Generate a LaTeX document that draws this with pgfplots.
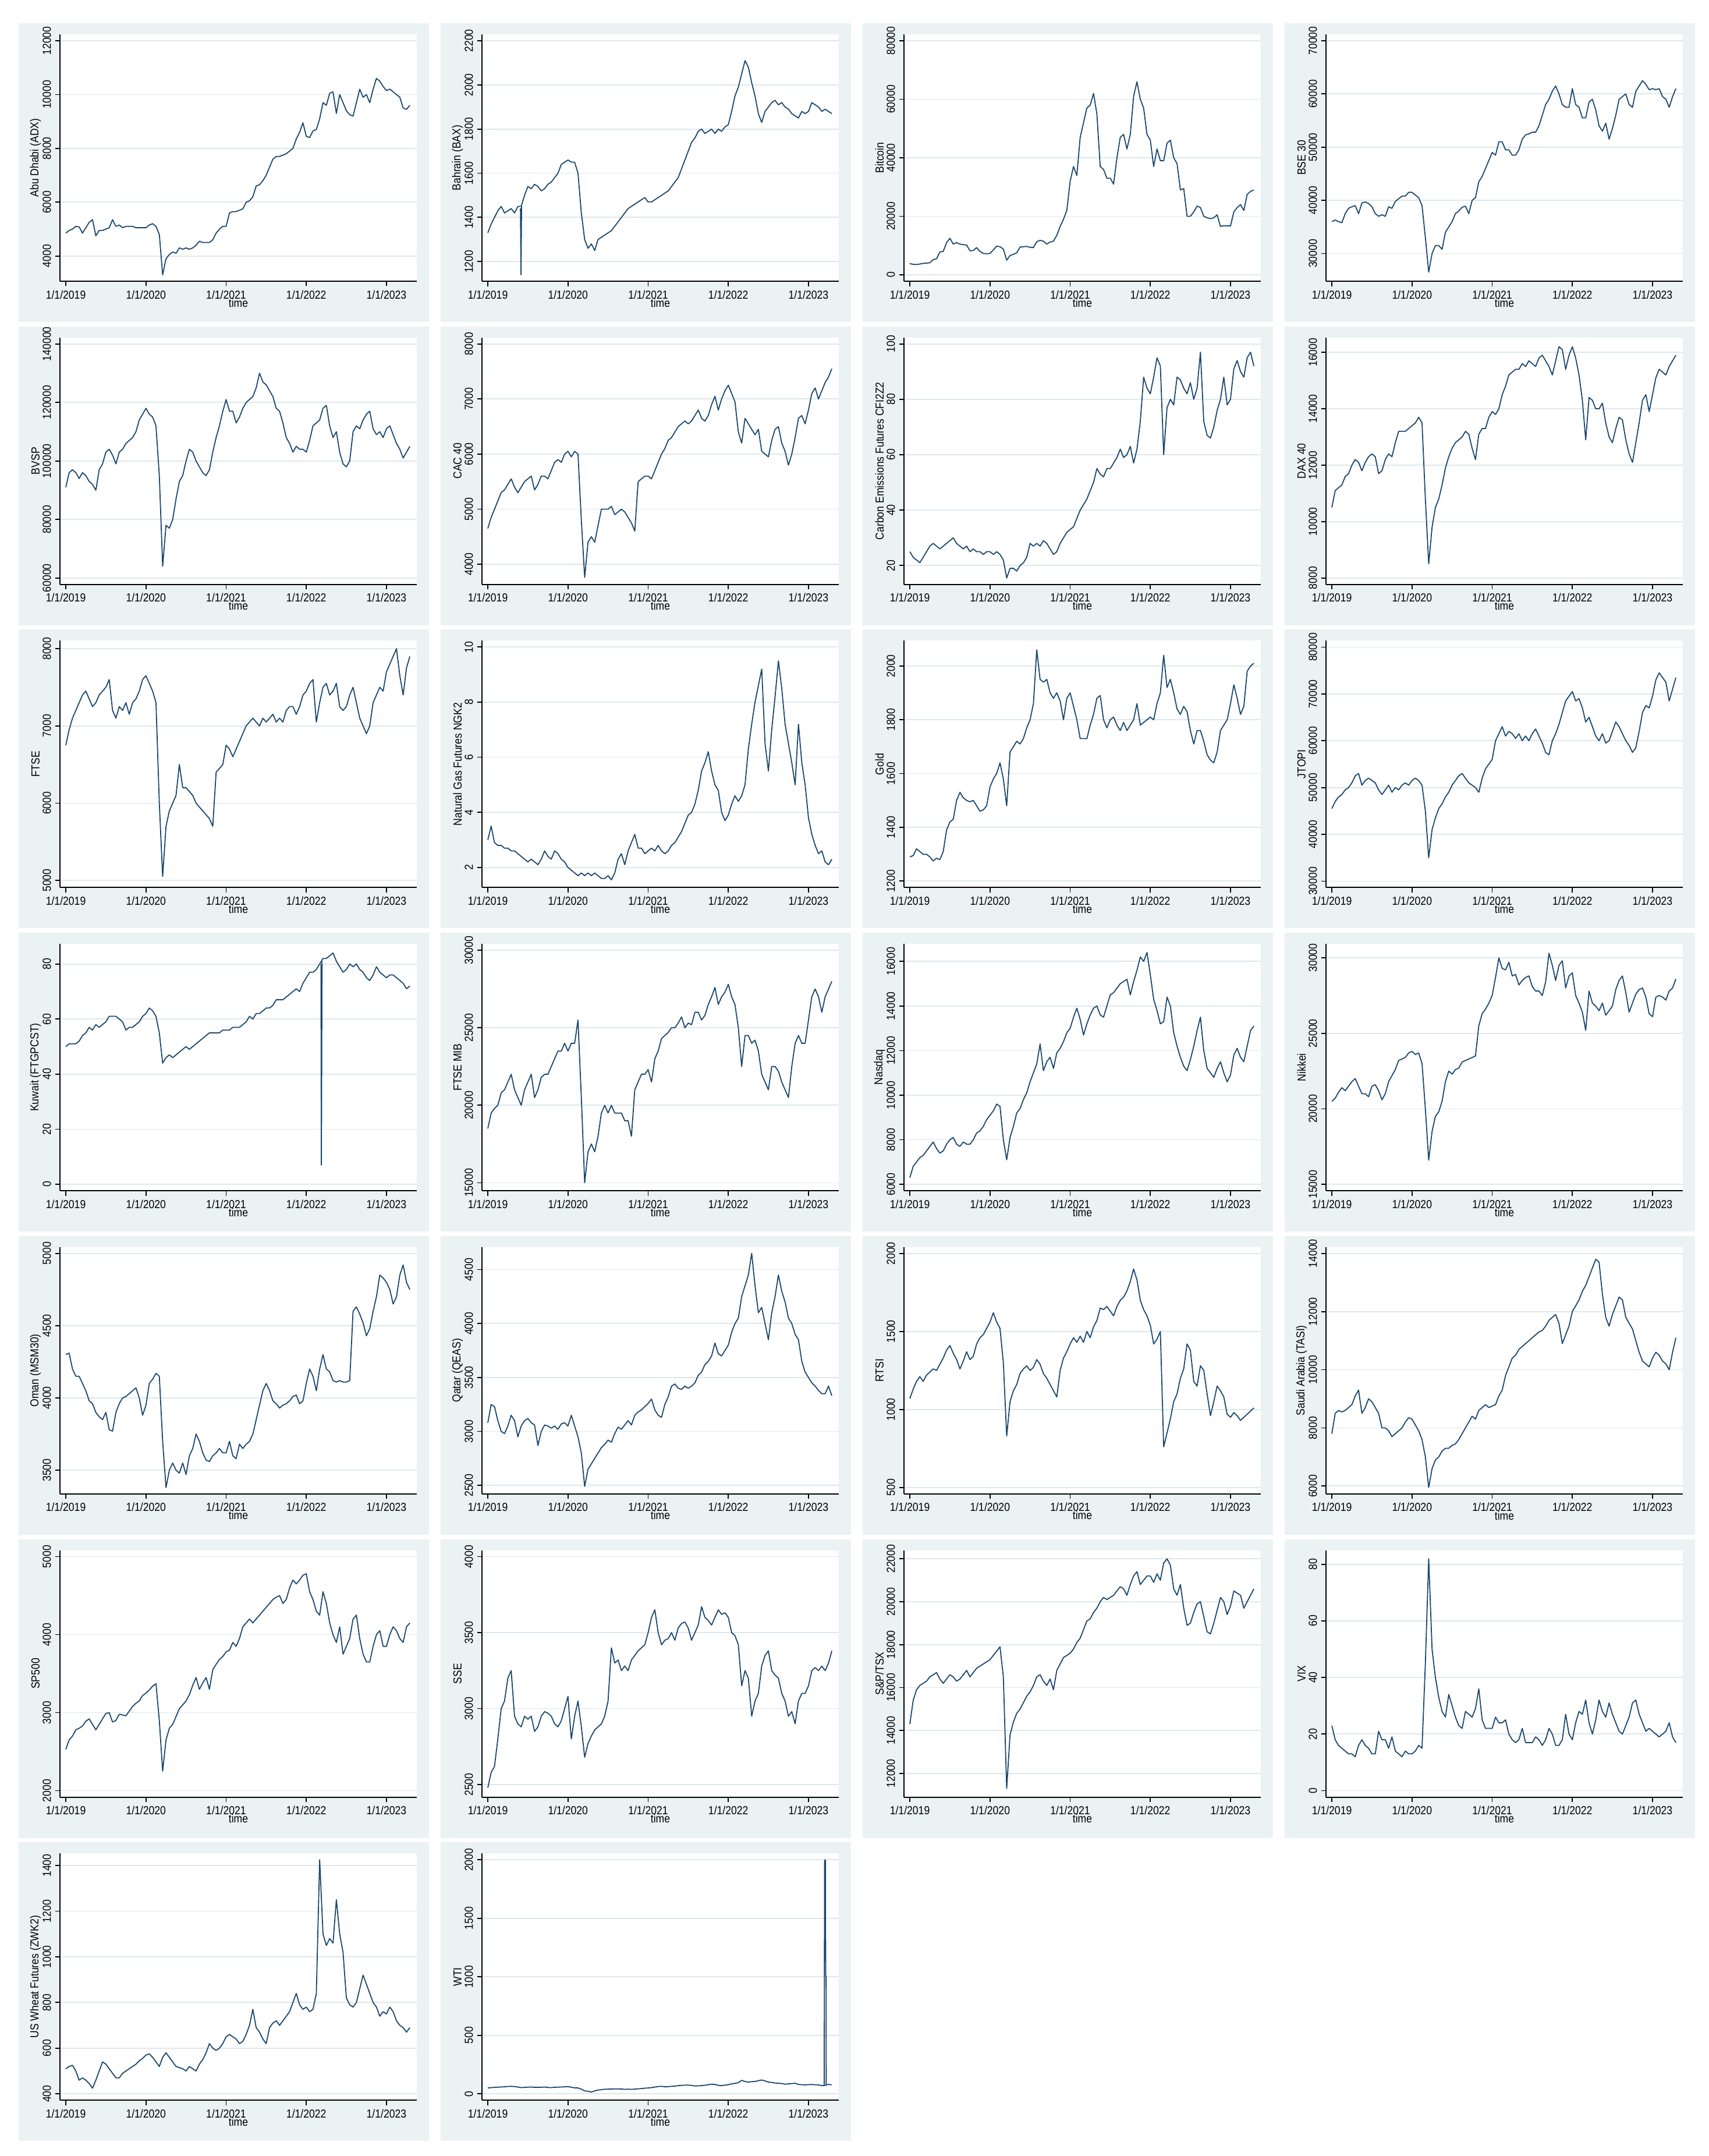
\documentclass[border=0pt]{standalone}
\usepackage{fontspec}
\setmainfont{Liberation Sans}[FakeStretch=0.88]
\usepackage{pgfplots}
\usepackage{pgfplotstable}
\pgfplotsset{compat=1.18}

\definecolor{panelbg}{RGB}{234,242,243}
\definecolor{gridcol}{RGB}{222,232,236}
\definecolor{stnavy}{RGB}{26,71,111}

% one column per series, half-monthly from 1/1/2019
\pgfplotstableread[row sep=\\]{v\\
4850\\4950\\5000\\5100\\5080\\4850\\5050\\5250\\5350\\4750\\4950\\4950\\
5000\\5050\\5350\\5100\\5150\\5050\\5100\\5100\\5100\\5050\\5050\\5050\\
5050\\5150\\5200\\5100\\4800\\3300\\3900\\4050\\4150\\4100\\4300\\4250\\
4300\\4250\\4300\\4400\\4550\\4500\\4500\\4500\\4600\\4850\\5000\\5100\\
5100\\5600\\5650\\5650\\5700\\5750\\6000\\6050\\6200\\6600\\6650\\6800\\
7000\\7300\\7600\\7700\\7700\\7750\\7800\\7900\\8000\\8350\\8600\\8950\\
8450\\8400\\8650\\8700\\9100\\9700\\9600\\10050\\10100\\9300\\10000\\9700\\
9400\\9250\\9200\\9700\\10200\\9900\\10000\\9700\\10200\\10600\\10500\\10300\\
10150\\10200\\10100\\10000\\9900\\9500\\9450\\9600\\
}\tADX
\pgfplotstableread[row sep=\\]{v\\
1330\\1370\\1400\\1430\\1450\\1420\\1430\\1440\\1420\\1450\\1450\\1500\\
1540\\1530\\1550\\1540\\1520\\1530\\1550\\1560\\1580\\1600\\1640\\1650\\
1660\\1650\\1650\\1600\\1420\\1300\\1260\\1280\\1250\\1300\\1310\\1320\\
1330\\1340\\1360\\1380\\1400\\1420\\1440\\1450\\1460\\1470\\1480\\1490\\
1470\\1470\\1480\\1490\\1500\\1510\\1520\\1540\\1560\\1580\\1620\\1660\\
1700\\1740\\1760\\1790\\1800\\1780\\1790\\1800\\1780\\1800\\1790\\1810\\
1820\\1880\\1950\\1990\\2050\\2110\\2080\\2010\\1950\\1870\\1830\\1880\\
1900\\1920\\1930\\1910\\1920\\1900\\1890\\1870\\1860\\1850\\1880\\1870\\
1880\\1920\\1910\\1900\\1880\\1890\\1880\\1870\\
}\tBAX
\pgfplotstableread[row sep=\\]{v\\
3800\\3600\\3500\\3700\\3900\\4000\\4100\\5200\\5500\\7800\\8000\\11000\\
12500\\10500\\11000\\10500\\10300\\10200\\8200\\8300\\9300\\8000\\7300\\7200\\
7300\\8500\\9800\\9600\\8800\\5000\\6600\\7000\\7500\\9500\\9600\\9700\\
9400\\9300\\11300\\11800\\11500\\10500\\11200\\11500\\13500\\16500\\19000\\22000\\
32000\\37000\\34000\\47000\\52000\\57000\\58000\\62000\\55000\\37000\\36000\\33000\\
33000\\31000\\40000\\47000\\48000\\43000\\48000\\61000\\66000\\60000\\57000\\48000\\
46000\\37000\\43000\\39000\\39000\\45000\\46000\\40000\\38000\\29000\\29500\\20000\\
20000\\21500\\23500\\23000\\20000\\19500\\19200\\19500\\20500\\16500\\16800\\16700\\
16700\\21500\\23000\\24000\\22000\\27500\\28500\\29000\\
}\tBTC
\pgfplotstableread[row sep=\\]{v\\
36000\\36300\\36000\\35800\\37500\\38500\\38800\\39000\\37500\\39500\\39700\\39400\\
38800\\37500\\37000\\37300\\37000\\38800\\38500\\39800\\40300\\40800\\40800\\41500\\
41500\\41000\\40500\\39000\\33000\\26500\\30000\\31500\\31500\\30800\\34000\\35000\\
36000\\37500\\38000\\38700\\38900\\37500\\40000\\40500\\43500\\44500\\46000\\47500\\
49000\\48500\\51000\\51000\\49500\\49500\\48500\\48500\\49500\\51500\\52300\\52500\\
52800\\52800\\54000\\56000\\58000\\59000\\60500\\61500\\60000\\58000\\57500\\57500\\
61000\\58000\\57500\\55500\\55500\\58500\\59000\\57000\\54000\\53000\\54500\\51500\\
53500\\56000\\59000\\59500\\60000\\58000\\57500\\60500\\61500\\62500\\61800\\60800\\
61000\\60800\\61000\\59500\\59000\\57500\\59500\\61000\\
}\tBSE
\pgfplotstableread[row sep=\\]{v\\
91000\\96000\\97000\\96000\\94000\\96000\\95000\\93000\\92000\\90000\\97000\\99000\\
103000\\104000\\102000\\99000\\103000\\104000\\106000\\107000\\108000\\110000\\114000\\116000\\
118000\\116000\\115000\\112000\\95000\\64000\\78000\\77000\\80000\\87000\\93000\\95000\\
100000\\104000\\103000\\100000\\98000\\96000\\95000\\97000\\103000\\108000\\112000\\117000\\
121000\\117000\\117000\\113000\\115000\\118000\\120000\\121000\\122000\\125000\\130000\\127000\\
126000\\124000\\122000\\118000\\117000\\113000\\108000\\106000\\103000\\105000\\104000\\104000\\
103000\\107000\\112000\\113000\\114000\\118000\\119000\\112000\\108000\\110000\\103000\\99000\\
98000\\100000\\110000\\112000\\111000\\114000\\116000\\117000\\111000\\109000\\110000\\108000\\
111000\\112000\\109000\\106000\\104000\\101000\\103000\\105000\\
}\tBVSP
\pgfplotstableread[row sep=\\]{v\\
4650\\4850\\5000\\5150\\5300\\5350\\5450\\5550\\5400\\5300\\5400\\5500\\
5550\\5600\\5350\\5450\\5600\\5600\\5550\\5700\\5850\\5900\\5850\\6000\\
6050\\5950\\6050\\6000\\4800\\3760\\4400\\4500\\4400\\4700\\5000\\5000\\
5000\\5050\\4900\\4950\\5000\\4950\\4850\\4750\\4600\\5500\\5550\\5600\\
5600\\5550\\5700\\5850\\6000\\6100\\6250\\6300\\6400\\6500\\6550\\6600\\
6550\\6600\\6700\\6800\\6650\\6600\\6700\\6900\\7050\\6800\\7000\\7150\\
7250\\7100\\6950\\6400\\6200\\6650\\6550\\6450\\6350\\6450\\6050\\6000\\
5950\\6250\\6450\\6500\\6200\\6050\\5800\\6000\\6300\\6650\\6700\\6550\\
6800\\7100\\7200\\7000\\7150\\7300\\7400\\7550\\
}\tCAC
\pgfplotstableread[row sep=\\]{v\\
25\\23\\22\\21\\23\\25\\27\\28\\27\\26\\27\\28\\
29\\30\\28\\27\\26\\27\\25\\26\\25\\25\\24\\25\\
25\\24\\25\\24\\22\\15.5\\19\\19\\18\\20\\21\\23\\
28\\27\\28\\27\\29\\28\\26\\24\\25\\28\\30\\32\\
33\\34\\37\\40\\42\\44\\47\\50\\55\\53\\52\\55\\
55\\57\\59\\62\\59\\60\\63\\57\\62\\72\\88\\84\\
82\\88\\95\\92\\60\\77\\80\\78\\88\\87\\84\\82\\
86\\80\\84\\97\\72\\67\\66\\70\\76\\80\\88\\78\\
80\\91\\94\\90\\88\\95\\97\\92\\
}\tCO
\pgfplotstableread[row sep=\\]{v\\
10500\\11100\\11200\\11300\\11600\\11700\\12000\\12200\\12100\\11800\\12100\\12300\\
12400\\12300\\11700\\11800\\12200\\12400\\12300\\12800\\13200\\13200\\13200\\13300\\
13400\\13500\\13700\\13500\\10800\\8500\\9800\\10500\\10800\\11300\\11900\\12300\\
12600\\12800\\12900\\13000\\13200\\13100\\12600\\12200\\13100\\13300\\13300\\13700\\
13900\\13800\\14000\\14500\\14800\\15200\\15300\\15400\\15400\\15600\\15500\\15700\\
15600\\15500\\15800\\15900\\15700\\15500\\15200\\15700\\16200\\16100\\15400\\15900\\
16200\\15800\\15200\\14300\\12900\\14400\\14300\\14000\\14000\\14200\\13500\\13000\\
12800\\13300\\13700\\13600\\12900\\12400\\12100\\12800\\13500\\14300\\14500\\13900\\
14500\\15100\\15400\\15300\\15200\\15500\\15700\\15900\\
}\tDAX
\pgfplotstableread[row sep=\\]{v\\
6750\\6950\\7100\\7200\\7300\\7400\\7450\\7350\\7250\\7300\\7400\\7450\\
7500\\7600\\7200\\7100\\7250\\7200\\7300\\7150\\7300\\7350\\7450\\7600\\
7650\\7550\\7450\\7300\\6000\\5050\\5700\\5900\\6000\\6100\\6500\\6200\\
6200\\6150\\6100\\6000\\5950\\5900\\5850\\5800\\5700\\6400\\6450\\6500\\
6750\\6700\\6600\\6700\\6800\\6900\\7000\\7050\\7100\\7050\\7000\\7100\\
7050\\7100\\7150\\7050\\7100\\7050\\7200\\7250\\7250\\7150\\7250\\7400\\
7450\\7550\\7600\\7050\\7300\\7500\\7550\\7400\\7450\\7550\\7250\\7200\\
7250\\7400\\7500\\7300\\7100\\7000\\6900\\7000\\7300\\7400\\7500\\7450\\
7700\\7800\\7900\\8000\\7650\\7400\\7750\\7900\\
}\tFTSE
\pgfplotstableread[row sep=\\]{v\\
3.0\\3.5\\2.9\\2.8\\2.8\\2.7\\2.7\\2.6\\2.6\\2.5\\2.4\\2.3\\
2.2\\2.3\\2.2\\2.1\\2.3\\2.6\\2.4\\2.3\\2.6\\2.5\\2.3\\2.2\\
2.0\\1.9\\1.8\\1.7\\1.8\\1.7\\1.8\\1.7\\1.8\\1.7\\1.6\\1.6\\
1.7\\1.55\\1.8\\2.3\\2.5\\2.1\\2.6\\2.9\\3.2\\2.7\\2.7\\2.5\\
2.6\\2.7\\2.6\\2.8\\2.6\\2.5\\2.6\\2.8\\2.9\\3.1\\3.3\\3.6\\
3.9\\4.0\\4.3\\4.8\\5.5\\5.8\\6.2\\5.5\\5.0\\4.8\\4.0\\3.7\\
3.9\\4.3\\4.6\\4.4\\4.6\\5.0\\6.3\\7.2\\8.0\\8.6\\9.2\\6.5\\
5.5\\7.0\\8.2\\9.5\\8.5\\7.2\\6.5\\5.8\\5.0\\7.2\\5.8\\5.0\\
3.8\\3.2\\2.8\\2.5\\2.6\\2.2\\2.1\\2.3\\
}\tNG
\pgfplotstableread[row sep=\\]{v\\
1290\\1295\\1320\\1310\\1300\\1300\\1290\\1275\\1285\\1280\\1310\\1390\\
1420\\1430\\1500\\1530\\1510\\1500\\1495\\1500\\1480\\1460\\1465\\1480\\
1550\\1580\\1600\\1640\\1580\\1480\\1680\\1700\\1720\\1710\\1730\\1770\\
1800\\1860\\2060\\1950\\1940\\1950\\1900\\1880\\1900\\1870\\1800\\1880\\
1900\\1850\\1800\\1730\\1730\\1730\\1780\\1820\\1880\\1890\\1800\\1770\\
1800\\1810\\1780\\1760\\1790\\1760\\1780\\1800\\1860\\1780\\1790\\1800\\
1810\\1800\\1860\\1900\\2040\\1920\\1950\\1900\\1840\\1820\\1850\\1830\\
1760\\1710\\1760\\1760\\1720\\1670\\1650\\1640\\1680\\1760\\1780\\1800\\
1860\\1930\\1880\\1820\\1850\\1980\\2000\\2010\\
}\tGOLD
\pgfplotstableread[row sep=\\]{v\\
45500\\47000\\48000\\48500\\49500\\50000\\51000\\52500\\53000\\50500\\51500\\52000\\
51500\\51000\\49500\\48500\\49500\\50500\\49000\\50000\\49500\\50500\\51000\\50500\\
51500\\52000\\51500\\50500\\45000\\35000\\41000\\43500\\45500\\46500\\48000\\49000\\
50500\\51500\\52500\\53000\\52000\\51000\\50500\\50000\\49000\\52000\\54000\\55000\\
56000\\60000\\61500\\63000\\61000\\62000\\61500\\60500\\61500\\60000\\61000\\60000\\
61500\\62500\\61000\\59500\\57500\\57000\\60000\\61500\\63500\\66000\\68500\\69500\\
70500\\68500\\69000\\67000\\64000\\65000\\63000\\61000\\60000\\61500\\59500\\60000\\
62000\\64000\\63000\\61500\\60000\\59000\\57500\\58500\\62000\\66000\\67500\\67000\\
69500\\73000\\74500\\73500\\72500\\68500\\71000\\73500\\
}\tJTOPI
\pgfplotstableread[row sep=\\]{v\\
50\\51\\51\\51\\52\\54\\55\\57\\56\\58\\57\\58\\
59\\61\\61\\61\\60\\59\\56\\57\\57\\58\\59\\61\\
62\\64\\63\\61\\55\\44\\46\\47\\46\\47\\48\\49\\
50\\49\\50\\51\\52\\53\\54\\55\\55\\55\\55\\56\\
56\\56\\57\\57\\57\\58\\59\\61\\60\\62\\62\\63\\
64\\64\\65\\67\\67\\67\\68\\69\\70\\71\\70\\73\\
75\\77\\77\\78\\80\\82\\82\\83\\84\\81\\79\\77\\
78\\80\\79\\80\\78\\77\\75\\74\\76\\79\\77\\76\\
75\\76\\76\\75\\74\\73\\71\\72\\
}\tKUW
\pgfplotstableread[row sep=\\]{v\\
18500\\19500\\19800\\20000\\20800\\21000\\21500\\22000\\21000\\20500\\20000\\21000\\
21500\\22000\\20500\\21000\\21800\\22000\\22000\\22500\\23000\\23500\\23500\\24000\\
23500\\24000\\24000\\25500\\20500\\15000\\17000\\17500\\17000\\18000\\19500\\20000\\
19500\\20000\\19500\\19500\\19500\\19000\\19000\\18000\\21000\\21500\\22000\\22000\\
22300\\21500\\23000\\23500\\24300\\24500\\24700\\25000\\25000\\25300\\25700\\25000\\
25300\\25200\\26000\\26000\\25500\\25800\\26500\\27000\\27600\\26500\\27000\\27300\\
27800\\27000\\26500\\25000\\22500\\24500\\24500\\24000\\24200\\23500\\22000\\21500\\
21000\\22500\\22500\\22200\\21500\\21000\\20500\\22500\\24000\\24500\\24000\\24000\\
25500\\27000\\27500\\27000\\26000\\27000\\27500\\28000\\
}\tMIB
\pgfplotstableread[row sep=\\]{v\\
6300\\6800\\7000\\7200\\7300\\7500\\7700\\7900\\7600\\7400\\7500\\7800\\
8000\\8100\\7800\\7700\\7900\\7800\\7800\\8000\\8300\\8400\\8600\\8900\\
9100\\9300\\9600\\9500\\8000\\7100\\8100\\8600\\9200\\9400\\9800\\10100\\
10600\\11000\\11400\\12300\\11100\\11500\\11700\\11200\\11900\\12100\\12400\\12800\\
13000\\13500\\13900\\13400\\12700\\13200\\13600\\13900\\14000\\13600\\13500\\14000\\
14500\\14600\\14800\\15000\\15100\\15200\\14500\\15100\\15600\\16200\\16000\\16400\\
15400\\14300\\13800\\13200\\13300\\14400\\14000\\12800\\12200\\11700\\11300\\11100\\
11600\\12200\\12900\\13500\\12000\\11200\\11000\\10800\\11200\\11500\\11000\\10600\\
10900\\11800\\12100\\11700\\11500\\12200\\12900\\13100\\
}\tNDQ
\pgfplotstableread[row sep=\\]{v\\
20500\\20700\\21100\\21400\\21200\\21500\\21800\\22000\\21500\\21000\\21000\\20800\\
21500\\21600\\21200\\20600\\21000\\21800\\22200\\22600\\23200\\23300\\23400\\23700\\
23800\\23600\\23700\\23000\\20000\\16600\\18500\\19500\\19800\\20500\\21800\\22500\\
22300\\22600\\22700\\23100\\23200\\23300\\23400\\23500\\25500\\26300\\26600\\27000\\
27500\\28700\\30000\\29300\\29200\\29700\\28800\\28900\\28200\\28500\\28700\\28800\\
28100\\27800\\27800\\27500\\28400\\30300\\29500\\28500\\29500\\29800\\28000\\28800\\
29000\\27500\\27000\\26400\\25200\\27800\\27000\\26800\\26500\\27000\\26200\\26500\\
26800\\27900\\28500\\28800\\27700\\26400\\27000\\27600\\27900\\28000\\27400\\26300\\
26100\\27400\\27500\\27400\\27200\\27800\\28000\\28600\\
}\tNIK
\pgfplotstableread[row sep=\\]{v\\
4300\\4310\\4200\\4150\\4150\\4100\\4050\\3980\\3960\\3900\\3870\\3850\\
3900\\3780\\3770\\3900\\3960\\4000\\4010\\4030\\4050\\4070\\4000\\3880\\
3950\\4100\\4130\\4170\\4150\\3700\\3380\\3500\\3550\\3500\\3480\\3550\\
3470\\3600\\3650\\3750\\3700\\3620\\3570\\3560\\3600\\3620\\3650\\3620\\
3620\\3700\\3600\\3580\\3680\\3650\\3680\\3700\\3750\\3850\\3950\\4050\\
4100\\4050\\3980\\3960\\3930\\3950\\3960\\3980\\4010\\4020\\3960\\3980\\
4100\\4200\\4150\\4050\\4200\\4300\\4200\\4180\\4120\\4110\\4120\\4110\\
4110\\4120\\4600\\4630\\4580\\4520\\4430\\4480\\4600\\4700\\4850\\4830\\
4800\\4750\\4650\\4700\\4850\\4920\\4800\\4750\\
}\tOMAN
\pgfplotstableread[row sep=\\]{v\\
3080\\3250\\3230\\3100\\3000\\2980\\3050\\3150\\3100\\2950\\3050\\3100\\
3120\\3080\\3060\\2870\\3000\\3060\\3050\\3030\\3050\\3020\\3070\\3080\\
3050\\3150\\3050\\2950\\2800\\2490\\2650\\2700\\2750\\2800\\2850\\2880\\
2920\\2900\\2980\\3040\\3020\\3060\\3100\\3060\\3150\\3180\\3200\\3230\\
3260\\3300\\3200\\3150\\3130\\3250\\3320\\3420\\3440\\3400\\3390\\3420\\
3400\\3420\\3450\\3520\\3550\\3620\\3650\\3700\\3820\\3720\\3700\\3750\\
3800\\3920\\4000\\4050\\4250\\4350\\4450\\4650\\4350\\4100\\4150\\4000\\
3850\\4100\\4250\\4450\\4300\\4200\\4050\\4000\\3900\\3850\\3650\\3550\\
3500\\3450\\3420\\3380\\3350\\3350\\3420\\3330\\
}\tQAT
\pgfplotstableread[row sep=\\]{v\\
1070\\1130\\1180\\1210\\1180\\1220\\1240\\1260\\1250\\1290\\1330\\1380\\
1410\\1360\\1320\\1260\\1310\\1370\\1320\\1340\\1420\\1460\\1480\\1520\\
1560\\1620\\1560\\1520\\1300\\830\\1050\\1120\\1160\\1230\\1260\\1280\\
1250\\1270\\1320\\1290\\1230\\1200\\1160\\1120\\1080\\1250\\1330\\1370\\
1420\\1460\\1430\\1470\\1430\\1500\\1460\\1530\\1570\\1650\\1640\\1660\\
1630\\1600\\1660\\1700\\1720\\1760\\1820\\1900\\1830\\1700\\1640\\1600\\
1540\\1420\\1450\\1500\\760\\850\\940\\1050\\1100\\1200\\1260\\1420\\
1380\\1180\\1150\\1280\\1250\\1100\\960\\1050\\1150\\1120\\1080\\970\\
950\\980\\960\\930\\950\\970\\990\\1010\\
}\tRTSI
\pgfplotstableread[row sep=\\]{v\\
7800\\8500\\8600\\8550\\8600\\8700\\8800\\9100\\9300\\8500\\8700\\9000\\
8900\\8700\\8500\\8000\\8000\\7900\\7700\\7800\\7900\\8000\\8200\\8350\\
8300\\8100\\7900\\7600\\7000\\5950\\6600\\6900\\7000\\7200\\7300\\7300\\
7400\\7450\\7600\\7800\\8000\\8200\\8400\\8300\\8600\\8700\\8800\\8700\\
8750\\8800\\9100\\9300\\9800\\10100\\10400\\10500\\10700\\10800\\10900\\11000\\
11100\\11200\\11300\\11350\\11500\\11700\\11800\\11900\\11600\\10900\\11200\\11500\\
12000\\12200\\12400\\12700\\12900\\13200\\13500\\13800\\13700\\12600\\11800\\11500\\
11900\\12200\\12500\\12400\\11800\\11600\\11400\\11000\\10600\\10300\\10200\\10100\\
10400\\10600\\10500\\10300\\10200\\10000\\10600\\11100\\
}\tTASI
\pgfplotstableread[row sep=\\]{v\\
2530\\2650\\2700\\2780\\2800\\2830\\2890\\2920\\2850\\2780\\2850\\2920\\
2990\\3000\\2880\\2900\\2980\\2970\\2960\\3020\\3080\\3120\\3150\\3220\\
3250\\3290\\3340\\3370\\2900\\2250\\2650\\2800\\2850\\2950\\3050\\3100\\
3150\\3230\\3350\\3450\\3300\\3380\\3450\\3300\\3550\\3620\\3680\\3720\\
3780\\3800\\3900\\3850\\3950\\4100\\4150\\4200\\4150\\4200\\4250\\4300\\
4350\\4400\\4450\\4480\\4500\\4400\\4450\\4600\\4700\\4650\\4700\\4760\\
4780\\4550\\4450\\4300\\4250\\4550\\4400\\4150\\4000\\3900\\4100\\3750\\
3850\\3950\\4200\\4250\\3950\\3750\\3650\\3650\\3850\\4000\\4050\\3850\\
3850\\4000\\4100\\4050\\3950\\3900\\4100\\4150\\
}\tSPX
\pgfplotstableread[row sep=\\]{v\\
2480\\2580\\2620\\2800\\3000\\3050\\3200\\3250\\2950\\2900\\2880\\2950\\
2930\\2950\\2850\\2880\\2950\\2980\\2970\\2950\\2900\\2880\\2920\\3000\\
3080\\2800\\2950\\3050\\2880\\2680\\2770\\2820\\2860\\2880\\2900\\2950\\
3050\\3400\\3300\\3320\\3250\\3280\\3250\\3320\\3350\\3380\\3400\\3420\\
3500\\3600\\3650\\3500\\3420\\3450\\3460\\3500\\3450\\3530\\3560\\3570\\
3530\\3450\\3500\\3550\\3670\\3600\\3580\\3550\\3600\\3650\\3620\\3630\\
3600\\3500\\3480\\3420\\3150\\3250\\3200\\2950\\3050\\3100\\3280\\3350\\
3380\\3250\\3220\\3200\\3100\\3050\\2950\\2980\\2900\\3050\\3100\\3100\\
3150\\3250\\3270\\3250\\3280\\3250\\3300\\3380\\
}\tSSE
\pgfplotstableread[row sep=\\]{v\\
14300\\15400\\15900\\16100\\16200\\16300\\16500\\16600\\16700\\16400\\16200\\16400\\
16600\\16500\\16300\\16400\\16600\\16800\\16500\\16700\\16900\\17000\\17100\\17200\\
17300\\17500\\17700\\17900\\16500\\11300\\13800\\14400\\14800\\15000\\15300\\15600\\
15800\\16100\\16500\\16600\\16300\\16100\\16400\\15900\\16800\\17100\\17400\\17500\\
17600\\17800\\18100\\18300\\18700\\19100\\19200\\19500\\19700\\20000\\20200\\20100\\
20200\\20300\\20500\\20700\\20600\\20300\\20800\\21200\\21400\\20800\\21000\\21200\\
21200\\20900\\21300\\21000\\21800\\22000\\21700\\20600\\20300\\20800\\19700\\18900\\
19000\\19500\\19900\\20000\\19300\\18600\\18500\\19000\\19600\\20200\\20000\\19400\\
19800\\20500\\20400\\20300\\19700\\20000\\20300\\20600\\
}\tTSX
\pgfplotstableread[row sep=\\]{v\\
23\\18\\16\\15\\14\\13\\13\\12\\16\\18\\16\\15\\
13\\13\\21\\18\\18\\15\\19\\14\\13\\12\\14\\13\\
13\\14\\16\\15\\45\\82\\50\\40\\33\\28\\26\\34\\
30\\26\\23\\22\\28\\27\\26\\29\\36\\25\\22\\22\\
22\\26\\24\\24\\25\\20\\18\\17\\18\\22\\17\\17\\
17\\19\\18\\16\\18\\22\\20\\16\\16\\18\\27\\20\\
18\\24\\28\\27\\32\\24\\20\\25\\32\\28\\26\\31\\
27\\24\\21\\20\\23\\26\\31\\32\\27\\24\\21\\22\\
21\\20\\19\\20\\21\\24\\19\\17\\
}\tVIX
\pgfplotstableread[row sep=\\]{v\\
510\\520\\525\\500\\460\\470\\460\\445\\425\\460\\500\\540\\
530\\510\\490\\470\\470\\490\\500\\510\\520\\530\\545\\555\\
570\\575\\560\\540\\520\\560\\580\\560\\540\\520\\515\\510\\
500\\520\\510\\500\\530\\550\\580\\620\\600\\590\\600\\620\\
650\\660\\650\\640\\620\\630\\660\\700\\770\\690\\670\\640\\
620\\690\\710\\720\\700\\720\\740\\760\\800\\840\\790\\770\\
780\\760\\770\\840\\1425\\1100\\1050\\1080\\1060\\1250\\1100\\1020\\
820\\790\\780\\800\\860\\920\\880\\840\\800\\780\\740\\760\\
750\\780\\760\\720\\700\\690\\670\\690\\
}\tZWK
\pgfplotstableread[row sep=\\]{v\\
50\\53\\55\\57\\58\\60\\63\\64\\62\\58\\53\\55\\
57\\58\\55\\55\\56\\58\\54\\53\\56\\57\\58\\60\\
62\\56\\51\\50\\40\\25\\22\\15\\25\\32\\36\\39\\
40\\41\\42\\42\\41\\38\\40\\38\\40\\43\\45\\48\\
50\\53\\58\\62\\64\\60\\61\\64\\66\\70\\72\\74\\
74\\72\\67\\68\\70\\73\\78\\82\\80\\72\\70\\74\\
78\\85\\90\\95\\115\\105\\100\\104\\106\\112\\118\\110\\
100\\98\\92\\90\\88\\82\\85\\88\\90\\80\\78\\76\\
78\\80\\77\\76\\70\\72\\80\\77\\
}\tWTI

\pgfplotsset{
  stata/.style={
    scale only axis, width=306.5pt, height=212pt, anchor=north west,
    xmin=2018.927, xmax=2023.378,
    axis background/.style={fill=white},
    axis lines=left,
    axis line style={-, black, line width=1pt},
    tick align=outside, major tick length=4.25pt,
    tick style={black, line width=0.9pt},
    xtick={2019,2020,2021,2022,2023},
    xticklabels={1/1/2019,1/1/2020,1/1/2021,1/1/2022,1/1/2023},
    ymajorgrids, major grid style={gridcol, line width=0.9pt},
    scaled y ticks=false,
    tick label style={font=\fontsize{10}{12}\selectfont, black},
    label style={font=\fontsize{10}{12}\selectfont, black},
    y tick label style={rotate=90, anchor=south},
    xlabel={time},
    xlabel style={at={(axis description cs:0.5,-0.0873)}, anchor=center},
    ylabel style={at={(axis description cs:-0.0685,0.5)}, anchor=center},
    /pgf/number format/fixed,
    /pgf/number format/1000 sep={},
    /pgf/number format/assume math mode=true,
  },
  ser/.style={stnavy, line width=0.9pt, no markers, line join=round},
}

% #1 column, #2 row, #3 y title, #4 ymin, #5 ymax, #6 y ticks, #7 table, #8 extra plots
\newcommand{\panel}[8]{%
  \pgfmathsetmacro{\px}{(32+725*#1)*0.5}%
  \pgfmathsetmacro{\py}{-(40+520.7*#2)*0.5}%
  \fill[panelbg] (\px pt,\py pt) rectangle ++(352.5pt,-256.5pt);
  \begin{axis}[stata, at={(\px pt+35.5pt,\py pt-9.5pt)},
      ylabel={#3}, ymin=#4, ymax=#5, ytick={#6}]
    \addplot[ser] table[x expr=2019+\coordindex/24, y index=0] {#7};
    #8
  \end{axis}}

\begin{document}
\begin{tikzpicture}
\fill[white] (0,0) rectangle (1467.5pt,-1851.5pt);

\panel{0}{0}{Abu Dhabi (ADX)}{3062}{12238}{4000,6000,...,12000}{\tADX}{}
\panel{1}{0}{Bahrain (BAX)}{1111}{2229}{1200,1400,...,2200}{\tBAX}{%
  \addplot[ser] coordinates {(2019.407,1440) (2019.414,1140) (2019.421,1450)};}
\panel{2}{0}{Bitcoin}{-2189}{82189}{0,20000,...,80000}{\tBTC}{}
\panel{3}{0}{BSE 30}{24796}{71204}{30000,40000,...,70000}{\tBSE}{}

\panel{0}{1}{BVSP}{57811}{142189}{60000,80000,...,140000}{\tBVSP}{}
\panel{1}{1}{CAC 40}{3634}{8116}{4000,5000,...,8000}{\tCAC}{}
\panel{2}{1}{Carbon Emissions Futures CFI2Z2}{13.2}{102.3}{20,40,...,100}{\tCO}{}
\panel{3}{1}{DAX 40}{7773}{16527}{8000,10000,...,16000}{\tDAX}{}

\panel{0}{2}{FTSE}{4907}{8103}{5000,6000,...,8000}{\tFTSE}{}
\panel{1}{2}{Natural Gas Futures NGK2}{1.27}{10.23}{2,4,...,10}{\tNG}{}
\panel{2}{2}{Gold}{1176}{2094}{1200,1400,...,2000}{\tGOLD}{}
\panel{3}{2}{JTOPI}{28632}{81368}{30000,40000,...,80000}{\tJTOPI}{}

\panel{0}{3}{Kuwait (FTGPCST)}{-2.33}{87.3}{0,20,...,80}{\tKUW}{%
  \addplot[ser] coordinates {(2022.183,80) (2022.188,7) (2022.192,44) (2022.196,81)};}
\panel{1}{3}{FTSE MIB}{14487}{30413}{15000,20000,...,30000}{\tMIB}{}
\panel{2}{3}{Nasdaq}{5713}{16787}{6000,8000,...,16000}{\tNDQ}{}
\panel{3}{3}{Nikkei}{14576}{30924}{15000,20000,...,30000}{\tNIK}{}

\panel{0}{4}{Oman (MSM30)}{3336}{5044}{3500,4000,...,5000}{\tOMAN}{}
\panel{1}{4}{Qatar (QEAS)}{2421}{4709}{2500,3000,...,4500}{\tQAT}{}
\panel{2}{4}{RTSI}{459}{2041}{500,1000,...,2000}{\tRTSI}{}
\panel{3}{4}{Saudi Arabia (TASI)}{5730}{14220}{6000,8000,...,14000}{\tTASI}{}

\panel{0}{5}{SP500}{1918}{5082}{2000,3000,...,5000}{\tSPX}{}
\panel{1}{5}{SSE}{2418}{4042}{2500,3000,...,4000}{\tSSE}{}
\panel{2}{5}{S\&P/TSX}{10902}{22398}{12000,14000,...,22000}{\tTSX}{}
\panel{3}{5}{VIX}{-2.26}{84.96}{0,20,...,80}{\tVIX}{}

\panel{0}{6}{US Wheat Futures (ZWK2)}{372}{1453}{400,600,...,1400}{\tZWK}{}
\panel{1}{6}{WTI}{-55}{2055}{0,500,...,2000}{\tWTI}{%
  \addplot[ser] coordinates {(2023.196,74) (2023.201,1985) (2023.207,2000) (2023.212,1995) (2023.214,1015) (2023.219,1005) (2023.221,80)};}
\end{tikzpicture}
\end{document}
